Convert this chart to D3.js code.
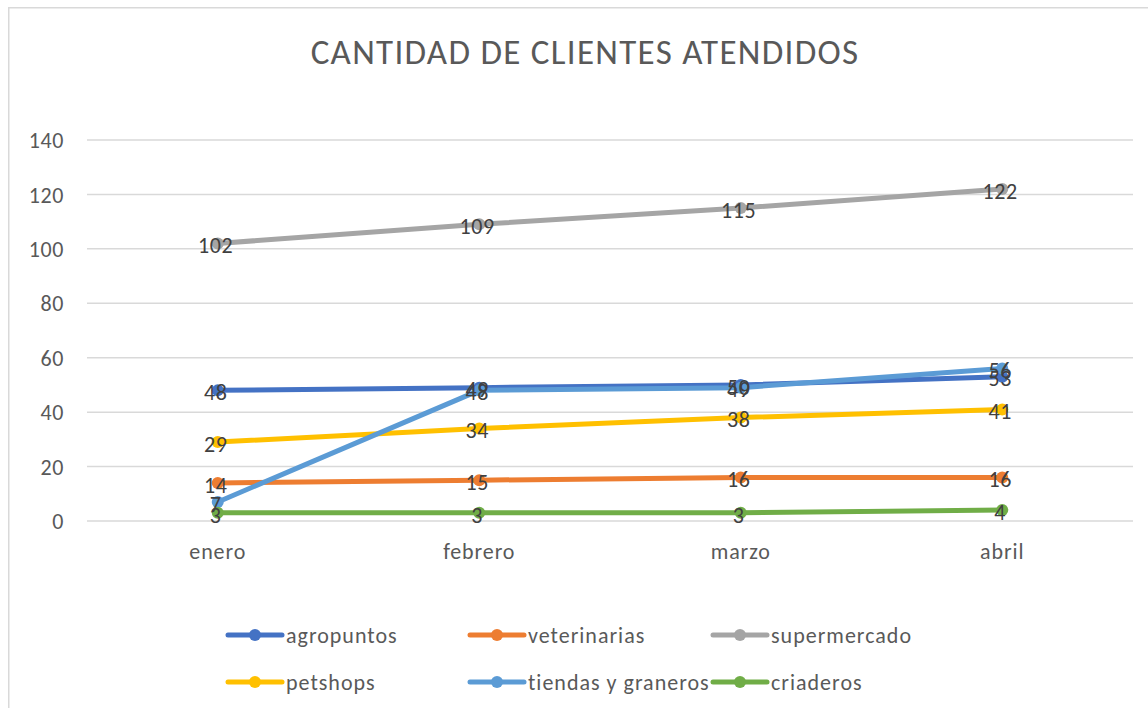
<!DOCTYPE html>
<html><head><meta charset="utf-8">
<script src="https://cdn.jsdelivr.net/npm/d3@7"></script>
<style>
html,body{margin:0;padding:0;background:#fff;}
svg{display:block;font-family:Carlito, Calibri, Lato, "Open Sans", sans-serif;}
</style></head>
<body>
<script>
const title = "CANTIDAD DE CLIENTES ATENDIDOS";
const months = ["enero", "febrero", "marzo", "abril"];
const yTicks = [0, 20, 40, 60, 80, 100, 120, 140];
const seriesNames = ["agropuntos", "veterinarias", "supermercado", "petshops", "tiendas y graneros", "criaderos"];
const seriesColors = ["#4472C4", "#ED7D31", "#A5A5A5", "#FFC000", "#5B9BD5", "#70AD47"];
const agropuntos = [48, 49, 50, 53];
const veterinarias = [14, 15, 16, 16];
const supermercado = [102, 109, 115, 122];
const petshops = [29, 34, 38, 41];
const tiendas = [7, 48, 49, 56];
const criaderos = [3, 3, 3, 4];
const seriesValues = [agropuntos, veterinarias, supermercado, petshops, tiendas, criaderos];

const W = 1148, H = 708;
const FONT = "Carlito, Calibri, Lato, sans-serif";
const svg = d3.select("body").append("svg").attr("width", W).attr("height", H);

// chart border
svg.append("rect").attr("x", 8.75).attr("y", 7.75).attr("width", 1160).attr("height", 720)
  .attr("fill", "none").attr("stroke", "#D9D9D9").attr("stroke-width", 1.5);

svg.append("text").attr("x", 585).attr("y", 64).attr("text-anchor", "middle")
  .attr("font-size", 35).attr("letter-spacing", 1.3).attr("fill", "#595959").text(title);

const x = d3.scaleBand().domain(months).range([87, 1133]);
const y = d3.scaleLinear().domain([0, 140]).range([521, 140]);

// gridlines
svg.append("g").selectAll("line").data(yTicks).join("line")
  .attr("x1", 87).attr("x2", 1133)
  .attr("y1", d => y(d)).attr("y2", d => y(d))
  .attr("stroke", "#D9D9D9").attr("stroke-width", 1.5);

// y axis labels
const yAxis = d3.axisLeft(y).tickValues(yTicks).tickSize(0).tickPadding(0);
const gy = svg.append("g").attr("transform", "translate(64,0)").call(yAxis);
gy.select(".domain").remove();
gy.selectAll("text").attr("font-size", 22).attr("letter-spacing", 0.6).attr("fill", "#595959").attr("font-family", FONT).attr("dy", "0.35em");

// x axis labels
const xAxis = d3.axisBottom(x).tickSize(0).tickPadding(0);
const gx = svg.append("g").attr("transform", "translate(0,542)").call(xAxis);
gx.select(".domain").remove();
gx.selectAll("text").attr("font-size", 22).attr("letter-spacing", 0.9).attr("fill", "#595959").attr("font-family", FONT).attr("dy", "0.75em");

const cx = m => x(m) + x.bandwidth() / 2;
const line = d3.line().x((d, i) => cx(months[i])).y(d => y(d));

seriesValues.forEach((vals, s) => {
  const g = svg.append("g");
  g.append("path").attr("d", line(vals)).attr("fill", "none")
    .attr("stroke", seriesColors[s]).attr("stroke-width", 5).attr("stroke-linecap", "round").attr("stroke-linejoin", "round");
  g.selectAll("circle").data(vals).join("circle")
    .attr("cx", (d, i) => cx(months[i])).attr("cy", d => y(d)).attr("r", 6)
    .attr("fill", seriesColors[s]);
});

// data labels
seriesValues.forEach((vals, s) => {
  svg.append("g").selectAll("text").data(vals).join("text")
    .attr("x", (d, i) => cx(months[i]) - 2).attr("y", d => y(d) + 2)
    .attr("dy", "0.35em").attr("text-anchor", "middle")
    .attr("font-size", 22).attr("letter-spacing", 0.6).attr("fill", "#404040").text(d => d);
});

// legend
const legCols = [228, 470, 713];
const legRows = [635, 682];
seriesNames.forEach((name, i) => {
  const lx = legCols[i % 3], ly = legRows[Math.floor(i / 3)];
  const g = svg.append("g").attr("transform", `translate(${lx},${ly})`);
  g.append("line").attr("x1", 0).attr("x2", 54).attr("y1", 0).attr("y2", 0)
    .attr("stroke", seriesColors[i]).attr("stroke-width", 5).attr("stroke-linecap", "round");
  g.append("circle").attr("cx", 27).attr("cy", 0).attr("r", 6).attr("fill", seriesColors[i]);
  g.append("text").attr("x", 58).attr("y", 0).attr("dy", "0.35em")
    .attr("font-size", 22).attr("letter-spacing", 1).attr("fill", "#595959").text(name);
});
</script>
</body></html>
